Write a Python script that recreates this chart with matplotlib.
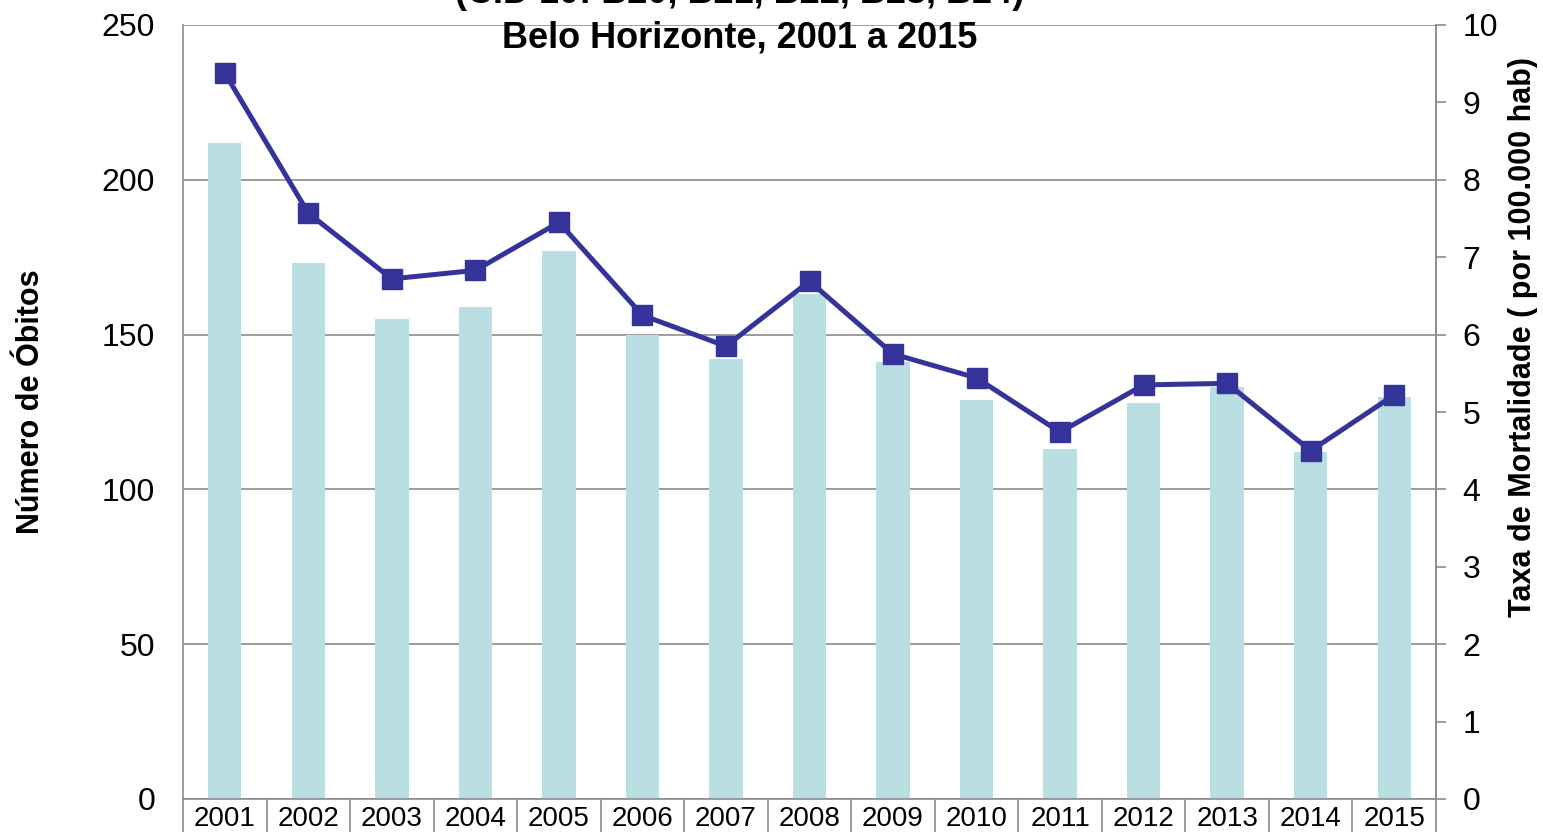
import matplotlib.pyplot as plt
import numpy as np

plt.rcParams['font.family'] = ['Liberation Sans', 'DejaVu Sans']

# dados
anos = ['2001', '2002', '2003', '2004', '2005', '2006', '2007', '2008',
        '2009', '2010', '2011', '2012', '2013', '2014', '2015']
obitos = [212, 173, 155, 159, 177, 150, 142, 163, 141, 129, 113, 128, 133, 112, 130]
taxa = [9.38, 7.57, 6.72, 6.83, 7.45, 6.25, 5.85, 6.69, 5.75, 5.44, 4.74, 5.35, 5.37, 4.50, 5.22]

fig = plt.figure(figsize=(15.43, 8.32), dpi=100)
ax = fig.add_axes([183 / 1543, 33 / 832, 1253 / 1543, 774 / 832])
x = np.arange(len(anos))

ax.bar(x, obitos, width=0.4, color='#B9DFE2', zorder=2)
ax.set_xlim(-0.5, len(anos) - 0.5)
ax.set_ylim(0, 250)
ax.set_yticks(range(0, 251, 50))
ax.yaxis.grid(True, color='#8C8C8C', linewidth=1.2, zorder=0)
ax.set_axisbelow(True)
ax.tick_params(axis='y', length=0, labelsize=23, pad=20)

# rótulos dos anos em caixas
ax.set_xticks(x)
ax.set_xticklabels(anos, fontsize=20)
ax.tick_params(axis='x', which='major', length=0, pad=5)
ax.set_xticks(np.arange(-0.5, len(anos), 1), minor=True)
ax.tick_params(axis='x', which='minor', length=40, color='#8C8C8C', width=1.2)

ax.spines['top'].set_visible(False)
for s in ['left', 'right', 'bottom']:
    ax.spines[s].set_color('#8C8C8C')
    ax.spines[s].set_linewidth(1.2)

ax2 = ax.twinx()
ax2.plot(x, taxa, color='#333399', linewidth=3.6, marker='s', markersize=15, zorder=3)
ax2.set_ylim(0, 10)
ax2.set_yticks(range(0, 11))
ax2.tick_params(axis='y', length=7, color='#8C8C8C', width=1.2, labelsize=23, pad=12)
ax2.spines['top'].set_visible(False)
ax2.spines['right'].set_color('#8C8C8C')
ax2.spines['right'].set_linewidth(1.2)
ax2.spines['left'].set_visible(False)
ax2.spines['bottom'].set_visible(False)

fig.text(31 / 1543, 1 - 402 / 832, 'Número de Óbitos', rotation=90, fontsize=22,
         fontweight='bold', ha='center', va='center')
fig.text(1523 / 1543, 1 - 337 / 832, 'Taxa de Mortalidade ( por 100.000 hab)', rotation=90,
         fontsize=22, fontweight='bold', ha='center', va='center')

fig.text(740 / 1543, 1 - 38 / 832, 'Belo Horizonte, 2001 a 2015', fontsize=26,
         fontweight='bold', ha='center', va='center')
fig.text(740 / 1543, 1 + 7 / 832, '(CID 10: B20, B21, B22, B23, B24)', fontsize=26,
         fontweight='bold', ha='center', va='center')

fig.savefig('out.png', dpi=100)
